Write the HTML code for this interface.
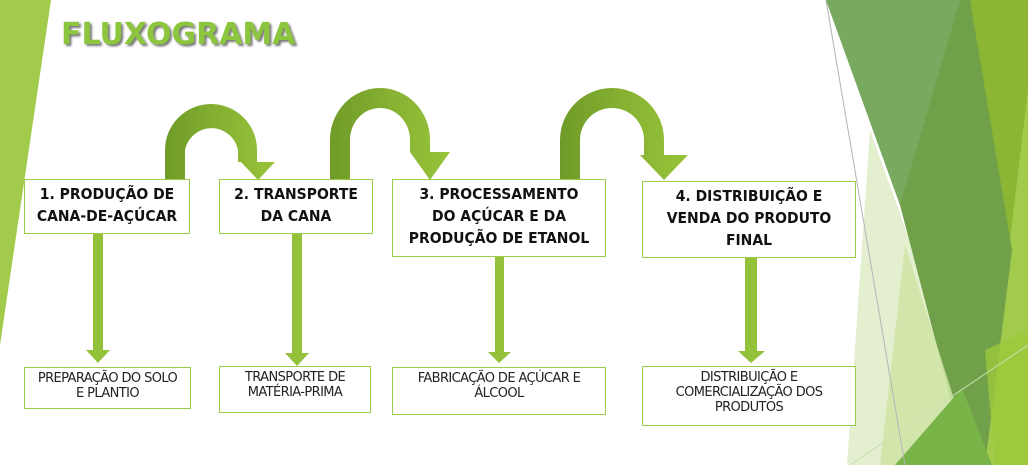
<!DOCTYPE html>
<html><head><meta charset="utf-8"><style>
html,body{margin:0;padding:0;background:#fff;}
body{width:1028px;height:465px;overflow:hidden;position:relative;font-family:"DejaVu Sans","Liberation Sans",sans-serif;}
svg{position:absolute;left:0;top:0;}
.b{position:absolute;box-sizing:border-box;border:1.5px solid #9bcb4a;background:#fff;display:flex;align-items:flex-start;justify-content:center;text-align:center;color:#111;}
.t{font-family:"DejaVu Sans Condensed","DejaVu Sans","Liberation Sans",sans-serif;font-weight:bold;font-size:15.5px;line-height:22px;padding-top:3px;}
.s{font-size:13px;line-height:15px;padding-top:3px;letter-spacing:-0.6px;color:#222;}
.title{position:absolute;left:61px;top:17px;font-family:"DejaVu Sans","Liberation Sans",sans-serif;font-weight:bold;font-size:30px;color:#8cc63e;text-shadow:2px 2px 2px #777;}
</style></head><body>
<svg width="1028" height="465" viewBox="0 0 1028 465">
<defs>
<linearGradient id="g" x1="0" y1="0" x2="1" y2="0">
<stop offset="0" stop-color="#6f9b29"/><stop offset="0.5" stop-color="#86b132"/><stop offset="1" stop-color="#97c43a"/>
</linearGradient>
</defs>
<polygon points="0,0 51,0 0,345" fill="#a2cb4b"/>
<polygon points="967,0 1028,0 1028,465 985,465" fill="#8ab634"/>
<polygon points="1028,90 1028,465 983,465" fill="#a2cb4b"/>
<polygon points="870,130 990,465 847,465" fill="#e3efcf"/>
<polygon points="826,0 970,0 1012,250 987,450 968,465 900,205" fill="#70a04a"/>
<polygon points="826,0 960,0 900,205" fill="#78a95e"/>
<polygon points="905,245 975,465 880,465" fill="#cfe4a5" opacity="0.85"/>
<polygon points="962,388 992,465 895,465" fill="#78b448"/>
<polygon points="985,350 1028,330 1028,465 995,465" fill="#9cc83c" opacity="0.8"/>
<line x1="826" y1="0" x2="905" y2="465" stroke="#b5b5b5" stroke-width="1"/>
<line x1="850" y1="465" x2="1028" y2="345" stroke="#c9dfb0" stroke-width="1"/>
<path d="M165,180 L165,150 A46,46 0 0 1 257,150 L257,162 L275,162 L258,180 L241,162 L238,162 L238,150 A27,27 0 0 0 185,150 L185,180 Z" fill="url(#g)"/>
<path d="M330,180 L330,140 A50,52 0 0 1 430,140 L430,152 L450,152 L430,180 L410,152 L410,140 A30,32 0 0 0 350,140 L350,180 Z" fill="url(#g)"/>
<path d="M560,180 L560,140 A52,52 0 0 1 664,140 L664,155 L688,155 L664,180 L640,155 L644,155 L644,140 A32,32 0 0 0 580,140 L580,180 Z" fill="url(#g)"/>
<g fill="#93c13a">
<rect x="93" y="233" width="10" height="118"/><polygon points="86,350 110,350 98,363"/>
<rect x="292" y="233" width="10" height="121"/><polygon points="285,353 309,353 297,366"/>
<rect x="495" y="257" width="9" height="96"/><polygon points="488,352 511,352 499,363"/>
<rect x="745" y="257" width="12" height="95"/><polygon points="738,351 765,351 751,363"/>
</g>
</svg>
<div class="title">FLUXOGRAMA</div>
<div class="b t" style="left:24px;top:179px;width:166px;height:55px;">1. PRODUÇÃO DE<br>CANA-DE-AÇÚCAR</div>
<div class="b t" style="left:219px;top:179px;width:154px;height:55px;">2. TRANSPORTE<br>DA CANA</div>
<div class="b t" style="left:392px;top:179px;width:214px;height:78px;">3. PROCESSAMENTO<br>DO AÇÚCAR E DA<br>PRODUÇÃO DE ETANOL</div>
<div class="b t" style="left:642px;top:181px;width:214px;height:77px;">4. DISTRIBUIÇÃO E<br>VENDA DO PRODUTO<br>FINAL</div>
<div class="b s" style="left:24px;top:367px;width:167px;height:42px;">PREPARAÇÃO DO SOLO<br>E PLANTIO</div>
<div class="b s" style="left:219px;top:366px;width:152px;height:47px;">TRANSPORTE DE<br>MATÉRIA-PRIMA</div>
<div class="b s" style="left:392px;top:367px;width:214px;height:48px;">FABRICAÇÃO DE AÇÚCAR E<br>ÁLCOOL</div>
<div class="b s" style="left:642px;top:366px;width:214px;height:60px;">DISTRIBUIÇÃO E<br>COMERCIALIZAÇÃO DOS<br>PRODUTOS</div>
</body></html>
